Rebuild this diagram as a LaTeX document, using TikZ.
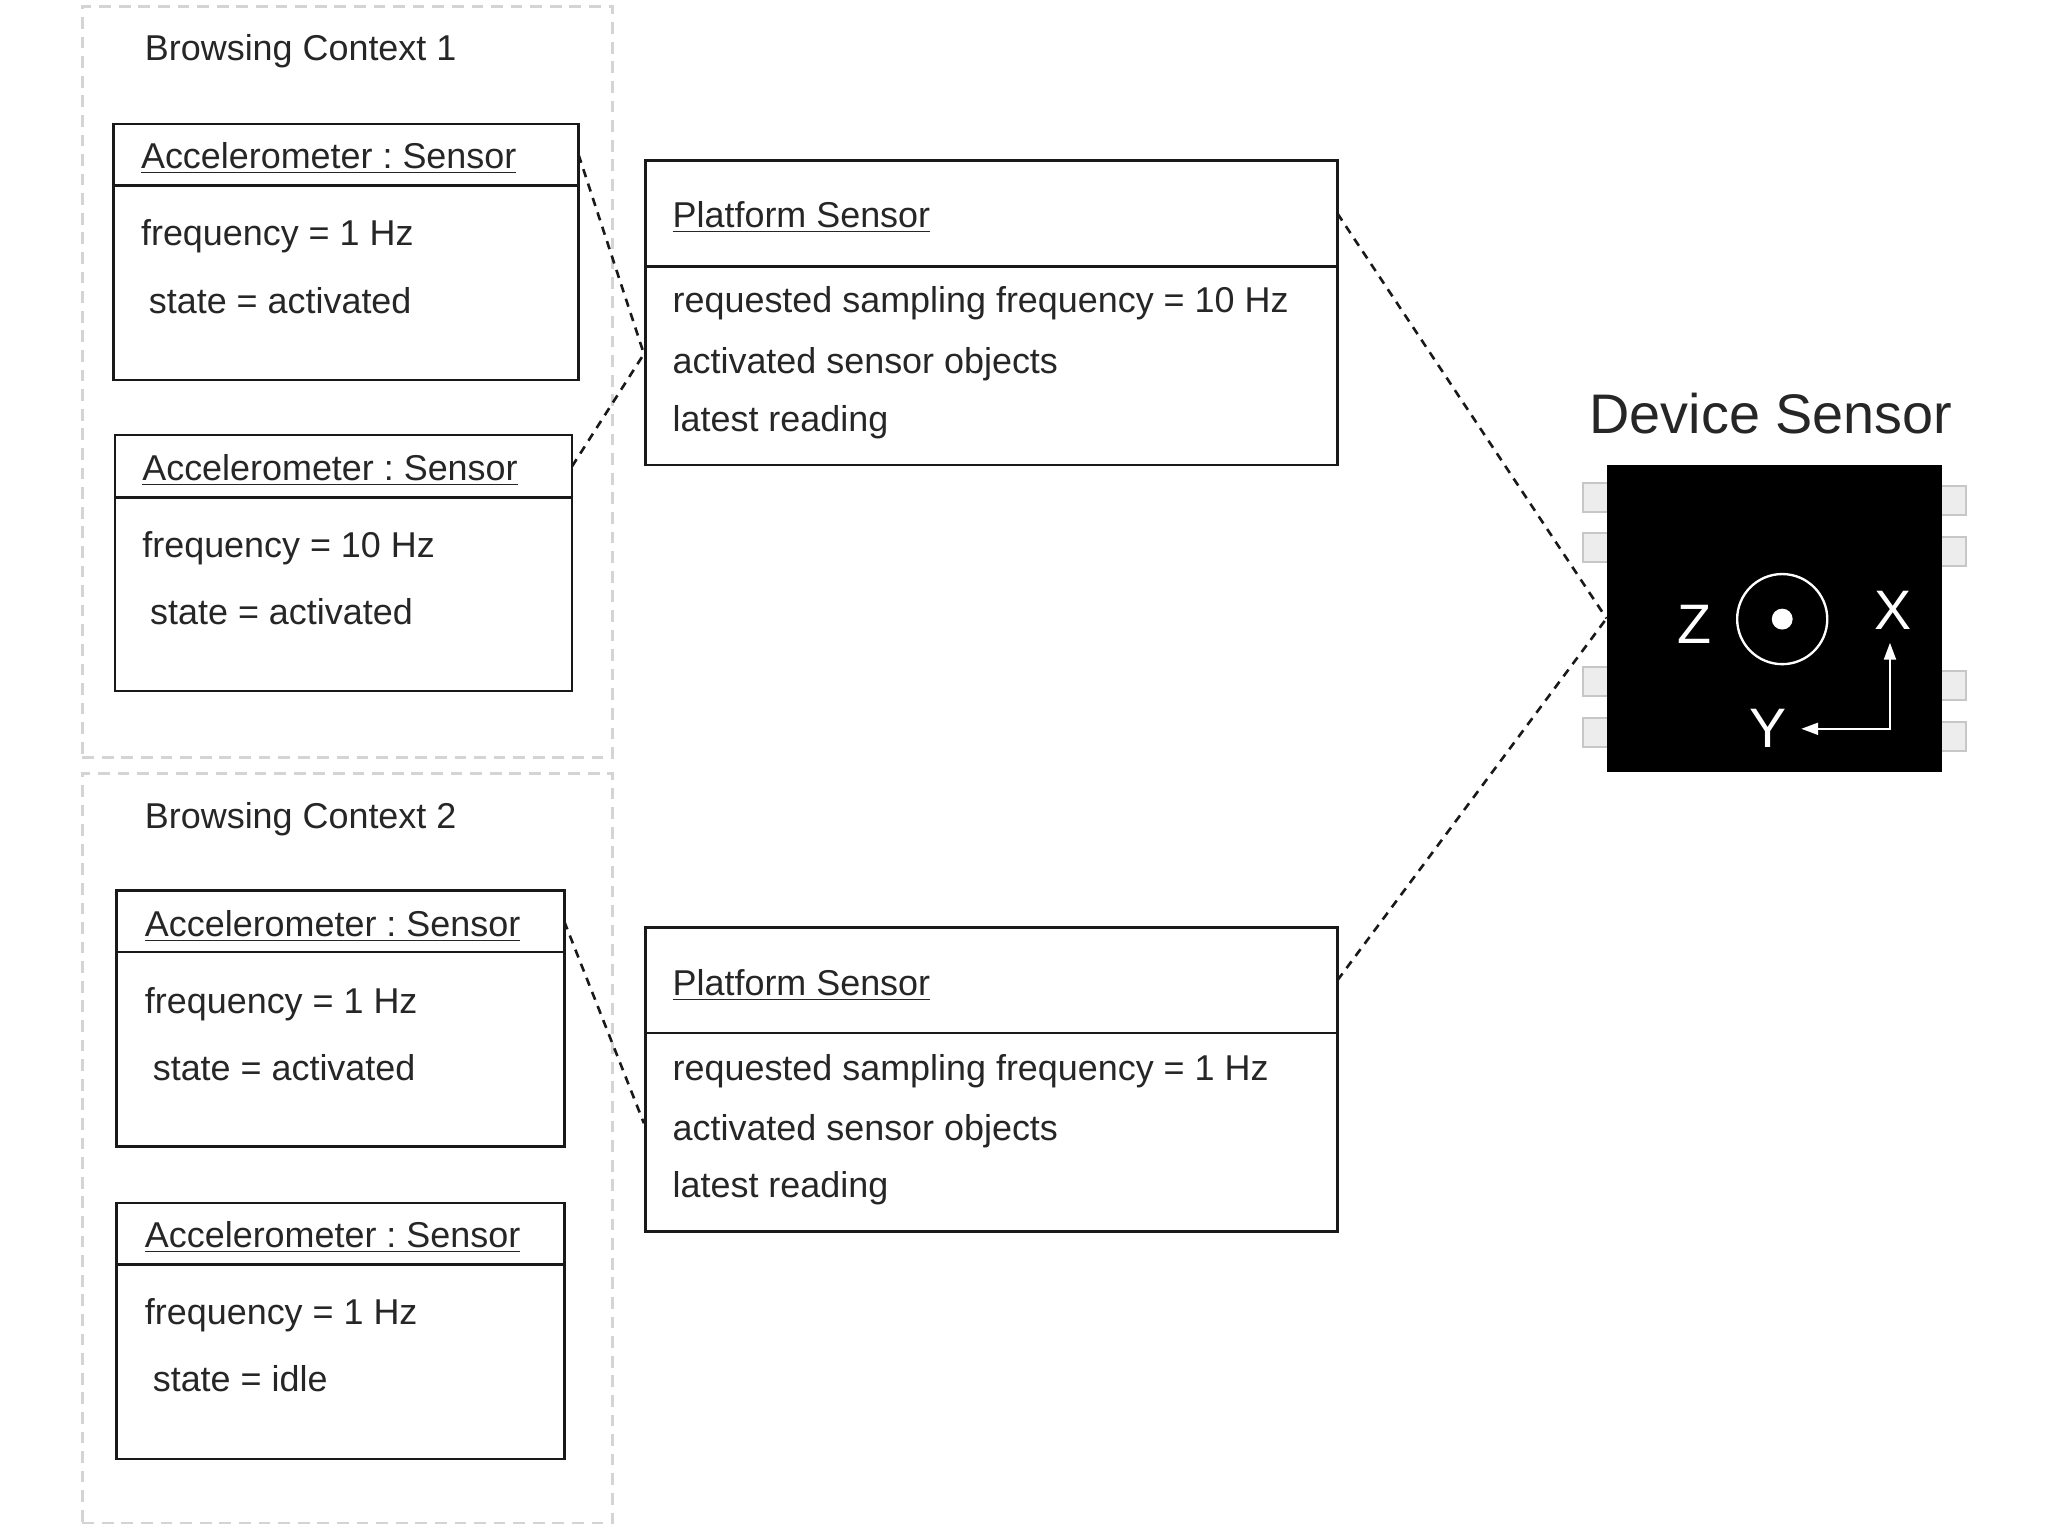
\documentclass[tikz,border=0pt]{standalone}
\usepackage{fontspec}
\setmainfont{Liberation Sans}
\usetikzlibrary{arrows.meta}
\frenchspacing
\definecolor{ink}{HTML}{262626}
\definecolor{ctxgray}{HTML}{D4D4D4}
\tikzset{
  x=0.5pt,y=-0.5pt,
  umlbox/.style={draw=black!90,line width=1pt,fill=white,inner sep=0pt,outer sep=0pt,anchor=north west},
  ctxbox/.style={draw=ctxgray,line width=1pt,dash pattern=on 4.5pt off 3pt,inner sep=0pt,outer sep=0pt,anchor=north west},
  txt/.style={anchor=base west,inner sep=0pt,outer sep=0pt,font=\fontsize{13.75pt}{16pt}\selectfont,text=ink},
  bigtxt/.style={anchor=base west,inner sep=0pt,outer sep=0pt,font=\fontsize{21.35pt}{24pt}\selectfont,text=ink},
  axis/.style={anchor=center,inner sep=0pt,outer sep=0pt,font=\fontsize{21.3pt}{24pt}\selectfont,text=white},
  link/.style={draw=black!90,line width=1pt,dash pattern=on 3.2pt off 2.6pt},
  pin/.style={draw=black!22,fill=black!7,line width=0.8pt,inner sep=0pt,outer sep=0pt,anchor=north west},
  axisarrow/.style={draw=white,line width=1pt,{Triangle[length=6.5pt,width=4.5pt,fill=white]}-{Triangle[length=6.5pt,width=4.5pt,fill=white]}},
}
\begin{document}
\begin{tikzpicture}
\useasboundingbox (0,0) rectangle (1568,1176);
% contexts
\node[ctxbox,minimum width=203pt,minimum height=287.5pt] (ctx1) at (63,5) {};
\node[ctxbox,minimum width=203pt,minimum height=287pt] (ctx2) at (63,592) {};
\node[txt] (ctx1t) at (111,46) {Browsing Context 1};
\node[txt] (ctx2t) at (111,634) {Browsing Context 2};
% sensor A1
\node[umlbox,minimum width=178pt,minimum height=23.5pt] (a1h) at (87,95) {};
\node[umlbox,minimum width=178pt,minimum height=74.5pt] (a1b) at (87,142) {};
\node[txt] (a1t) at (108,129) {\underline{Accelerometer : Sensor}};
\node[txt] (a1f) at (108,188) {frequency = 1 Hz};
\node[txt] (a1s) at (114,240) {state = activated};
% sensor A2
\node[umlbox,minimum width=175pt,minimum height=24pt] (a2h) at (88,333) {};
\node[umlbox,minimum width=175pt,minimum height=74pt] (a2b) at (88,381) {};
\node[txt] (a2t) at (109,368) {\underline{Accelerometer : Sensor}};
\node[txt] (a2f) at (109,427) {frequency = 10 Hz};
\node[txt] (a2s) at (115,478) {state = activated};
% sensor A3
\node[umlbox,minimum width=171.5pt,minimum height=23.5pt] (a3h) at (89,682) {};
\node[umlbox,minimum width=171.5pt,minimum height=74.5pt] (a3b) at (89,729) {};
\node[txt] (a3t) at (111,717) {\underline{Accelerometer : Sensor}};
\node[txt] (a3f) at (111,776) {frequency = 1 Hz};
\node[txt] (a3s) at (117,827) {state = activated};
% sensor A4
\node[umlbox,minimum width=171.5pt,minimum height=23.5pt] (a4h) at (89,921) {};
\node[umlbox,minimum width=171.5pt,minimum height=74.5pt] (a4b) at (89,968) {};
\node[txt] (a4t) at (111,955) {\underline{Accelerometer : Sensor}};
\node[txt] (a4f) at (111,1014) {frequency = 1 Hz};
\node[txt] (a4s) at (117,1065) {state = idle};
% platform P1
\node[umlbox,minimum width=265pt,minimum height=40.5pt] (p1h) at (494,123) {};
\node[umlbox,minimum width=265pt,minimum height=76pt] (p1b) at (494,204) {};
\node[txt] (p1t) at (515,174) {\underline{Platform Sensor}};
\node[txt] (p1a) at (515,239) {requested sampling frequency = 10 Hz};
\node[txt] (p1c) at (515,286) {activated sensor objects};
\node[txt] (p1d) at (515,330) {latest reading};
% platform P2
\node[umlbox,minimum width=265pt,minimum height=40.5pt] (p2h) at (494,710) {};
\node[umlbox,minimum width=265pt,minimum height=76pt] (p2b) at (494,791) {};
\node[txt] (p2t) at (515,762) {\underline{Platform Sensor}};
\node[txt] (p2a) at (515,827) {requested sampling frequency = 1 Hz};
\node[txt] (p2c) at (515,873) {activated sensor objects};
\node[txt] (p2d) at (515,917) {latest reading};
% device
\node[bigtxt] (devt) at (1217,332) {Device Sensor};
\node[pin,minimum width=10pt,minimum height=11pt] (pl1) at (1212,370) {};
\node[pin,minimum width=10pt,minimum height=11pt] (pl2) at (1212,408) {};
\node[pin,minimum width=10pt,minimum height=11pt] (pl3) at (1212,511) {};
\node[pin,minimum width=10pt,minimum height=11pt] (pl4) at (1212,550) {};
\node[pin,minimum width=10pt,minimum height=11pt] (pr1) at (1485,372) {};
\node[pin,minimum width=10pt,minimum height=11pt] (pr2) at (1485,411) {};
\node[pin,minimum width=10pt,minimum height=11pt] (pr3) at (1485,514) {};
\node[pin,minimum width=10pt,minimum height=11pt] (pr4) at (1485,553) {};
\node[fill=black,inner sep=0pt,outer sep=0pt,anchor=north west,minimum width=128.5pt,minimum height=117.5pt] (chip) at (1230,356) {};
\node[circle,draw=white,line width=0.9pt,inner sep=0pt,minimum size=34.5pt] (zring) at (1364.5,474) {};
\node[circle,fill=white,inner sep=0pt,minimum size=8pt] (zdot) at (1364.5,474) {};
\node[axis] (zl) at (1297,478) {Z};
\node[axis] (xl) at (1449,467) {X};
\node[axis] (yl) at (1354,558) {Y};
\coordinate (axup) at (1447,492);
\coordinate (axcorner) at (1447,558);
\coordinate (axleft) at (1379,558);
\draw[axisarrow] (axup) -- (axcorner) -- (axleft);
% connectors
\coordinate (p1in) at (493,271);
\coordinate (p2in) at (493,860);
\draw[link] (a1h.east) -- (p1in);
\draw[link] (a2h.east) -- (p1in);
\draw[link] (a3h.east) -- (p2in);
\draw[link] (p1h.east) -- (chip.west);
\draw[link] (p2h.east) -- (chip.west);
\end{tikzpicture}
\end{document}
